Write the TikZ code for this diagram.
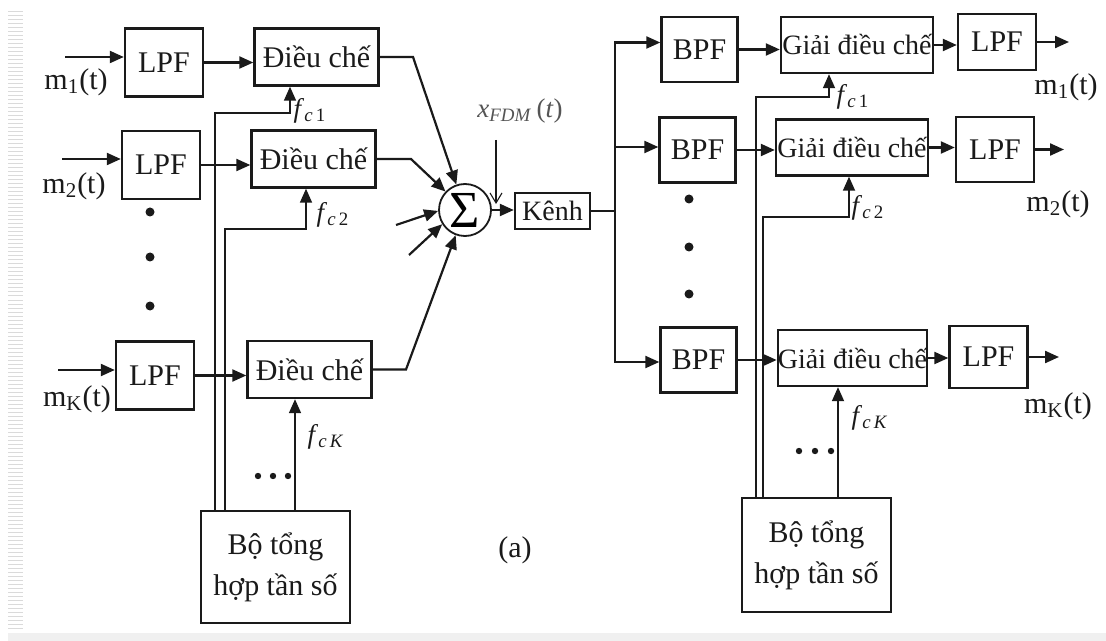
\documentclass[tikz,border=0pt]{standalone}
\usepackage{fontspec}
\setmainfont{Liberation Serif}
\usetikzlibrary{arrows.meta}
\definecolor{ink}{HTML}{1A1A1A}
\definecolor{muted}{HTML}{555555}
\definecolor{strip}{HTML}{DADADA}
\definecolor{band}{HTML}{F0F0F0}
\tikzset{
  blk/.style={draw=ink,line width=1.2pt,inner sep=0pt,align=center,text=ink,font=\fontsize{15}{17}\selectfont},
  lpf/.style={blk,minimum width=39pt,minimum height=34pt},
  bpf/.style={blk,minimum width=38pt,minimum height=32.5pt},
  mod/.style={blk,minimum width=62pt,minimum height=28.5pt},
  dem/.style={blk,minimum width=76pt,minimum height=28pt,font=\fontsize{14}{15}\selectfont},
  syn/.style={blk,minimum width=74.5pt,minimum height=56pt,font=\fontsize{15}{20.5}\selectfont},
  sig/.style={circle,draw=ink,line width=0.9pt,minimum size=26pt,inner sep=0pt,font=\fontsize{26}{26}\selectfont},
  lbl/.style={inner sep=0pt,text=ink,font=\fontsize{15}{16}\selectfont},
  flbl/.style={inner sep=0pt,text=ink,font=\fontsize{13.5}{15}\selectfont},
  dot/.style={circle,fill=ink,inner sep=0pt,minimum size=4.5pt},
  sdot/.style={circle,fill=ink,inner sep=0pt,minimum size=3.2pt},
  ar/.style={-{Triangle[length=7pt,width=6pt]},draw=ink,line width=1.1pt},
  ln/.style={draw=ink,line width=1.1pt},
  lo/.style={draw=ink,line width=0.85pt,-{Triangle[length=7pt,width=6pt]}},
  thinar/.style={draw=ink,line width=0.55pt,-{Straight Barb[length=5pt,width=6pt]}},
}
\newcommand{\fc}[1]{\textit{f}\textsubscript{\textit{c}\,#1}}

\begin{document}
\begin{tikzpicture}[x=0.5pt,y=-0.5pt]
  \useasboundingbox (0,0) rectangle (1106,641);
  \fill[white] (0,0) rectangle (1106,641);
  \fill[band] (8,633) rectangle (1106,641);
  \foreach \y in {12,16,...,628} { \draw[strip,line width=0.5pt] (8,\y) -- (23,\y); }

  % transmitter side
  \node[lpf] (lpfA) at (164,62.5) {LPF};
  \node[lpf] (lpfB) at (161,165) {LPF};
  \node[lpf] (lpfK) at (155,375.5) {LPF};
  \node[mod] (modA) at (316.5,57) {Điều chế};
  \node[mod] (modB) at (313.5,159) {Điều chế};
  \node[mod] (modK) at (309.5,369.5) {Điều chế};
  \node[syn] (synL) at (275.5,567) {Bộ tổng\\hợp tần số};
  \node[sig] (sum) at (465,210) {Σ};
  \node[blk,minimum width=37.5pt,minimum height=18pt,font=\fontsize{14}{15}\selectfont] (kenh) at (552.5,211) {Kênh};

  \node[lbl] (mA) at (76,82) {m\textsubscript{1}(t)};
  \node[lbl] (mB) at (74,186) {m\textsubscript{2}(t)};
  \node[lbl] (mK) at (77,399) {m\textsubscript{K}(t)};
  \node[flbl] (fA) at (310,111) {\fc{1}};
  \node[flbl] (fB) at (333,215) {\fc{2}};
  \node[flbl] (fK) at (326,437) {\fc{\textit{K}}};
  \node[flbl,text=muted] (xlbl) at (520,111) {\textit{x}\textsubscript{\textit{FDM}}\,(\textit{t})};
  \node[lbl] (alabel) at (515,550) {(a)};

  \foreach \i/\y in {1/212,2/257,3/306} { \node[dot] (dl\i) at (150,\y) {}; }
  \foreach \i/\x in {1/258,2/273,3/288} { \node[sdot] (hl\i) at (\x,476) {}; }

  \coordinate (inA) at (65,57);
  \coordinate (inB) at (62,159);
  \coordinate (inK) at (58,370);
  \draw[ar] (inA) -- (inA -| lpfA.west);
  \draw[ar] (inB) -- (inB -| lpfB.west);
  \draw[ar] (inK) -- (inK -| lpfK.west);

  % carriers from the synthesizer
  \coordinate (busA) at (215,113);
  \coordinate (busB) at (225,229);
  \coordinate (tA) at (290,113);
  \coordinate (tB) at (306,229);
  \coordinate (tK) at (295,440);
  \draw[lo] (busA |- synL.north) |- (tA) -- (tA |- modA.south);
  \draw[lo] (busB |- synL.north) |- (tB) -- (tB |- modB.south);
  \draw[lo] (tK |- synL.north) -- (tK |- modK.south);

  \draw[ar] (lpfA.east) -- (lpfA.east -| modA.west);
  \draw[ar] (lpfB.east) -- (lpfB.east -| modB.west);
  \draw[ar] (lpfK.east) -- (lpfK.east -| modK.west);

  \coordinate (kA) at (413,57);
  \coordinate (kB) at (411,159);
  \coordinate (kK) at (406,369.5);
  \coordinate (sA) at (396,225);
  \coordinate (sB) at (409,255);
  \draw[ar] (modA.east) -- (kA) -- (sum);
  \draw[ar] (modB.east) -- (kB) -- (sum);
  \draw[ar] (modK.east) -- (kK) -- (sum);
  \draw[ar] (sA) -- (sum.182);
  \draw[ar] (sB) -- (sum.212);
  \draw[ar] (sum.east) -- (sum.east -| kenh.west);

  \coordinate (xs) at (496,140);
  \coordinate (xe) at (496,204);
  \draw[thinar] (xs) -- (xe);

  % receiver side
  \node[bpf] (bpfA) at (699.5,49.5) {BPF};
  \node[bpf] (bpfB) at (697.5,150) {BPF};
  \node[bpf] (bpfK) at (698.5,360) {BPF};
  \node[dem] (demA) at (857,45) {Giải điều chế};
  \node[dem] (demB) at (852,147.5) {Giải điều chế};
  \node[dem,minimum width=71.5pt] (demK) at (852.5,358) {Giải điều chế};
  \node[lpf,minimum height=28pt] (lpfRA) at (997,42) {LPF};
  \node[lpf,minimum height=32.5pt] (lpfRB) at (995,149.5) {LPF};
  \node[lpf,minimum height=31pt] (lpfRK) at (988.5,357) {LPF};
  \node[syn,minimum height=57pt] (synR) at (816.5,555) {Bộ tổng\\hợp tần số};

  \node[lbl] (nA) at (1066,87) {m\textsubscript{1}(t)};
  \node[lbl] (nB) at (1058,204) {m\textsubscript{2}(t)};
  \node[lbl] (nK) at (1058,406) {m\textsubscript{K}(t)};
  \node[flbl] (gA) at (853,97) {\fc{1}};
  \node[flbl] (gB) at (868,208) {\fc{2}};
  \node[flbl] (gK) at (870,418) {\fc{\textit{K}}};

  \foreach \i/\y in {1/199,2/247,3/294} { \node[dot] (dr\i) at (689,\y) {}; }
  \foreach \i/\x in {1/799,2/815,3/831} { \node[sdot] (hr\i) at (\x,451) {}; }

  \coordinate (split) at (615,211);
  \draw[ln] (kenh.east) -- (split);
  \draw[ar] (split) |- ([yshift=3.5pt]bpfA.west);
  \draw[ar] (split) |- ([yshift=1.5pt]bpfB.west);
  \draw[ar] (split) |- ([yshift=-1pt]bpfK.west);

  \coordinate (busC) at (756,97);
  \coordinate (busD) at (763,217);
  \coordinate (tC) at (829,97);
  \coordinate (tD) at (849,217);
  \coordinate (tL) at (838,440);
  \draw[lo] (busC |- synR.north) |- (tC) -- (tC |- demA.south);
  \draw[lo] (busD |- synR.north) |- (tD) -- (tD |- demB.south);
  \draw[lo] (tL |- synR.north) -- (tL |- demK.south);

  \draw[ar] (bpfA.east) -- (bpfA.east -| demA.west);
  \draw[ar] (bpfB.east) -- (bpfB.east -| demB.west);
  \draw[ar] (bpfK.east) -- (bpfK.east -| demK.west);
  \draw[ar] (demA.east) -- (demA.east -| lpfRA.west);
  \draw[ar] (demB.east) -- (demB.east -| lpfRB.west);
  \draw[ar] (demK.east) -- (demK.east -| lpfRK.west);

  \coordinate (outA) at (1069,42);
  \coordinate (outB) at (1064,149.5);
  \coordinate (outK) at (1059,357);
  \draw[ar] (lpfRA.east) -- (outA);
  \draw[ar] (lpfRB.east) -- (outB);
  \draw[ar] (lpfRK.east) -- (outK);
\end{tikzpicture}
\end{document}
